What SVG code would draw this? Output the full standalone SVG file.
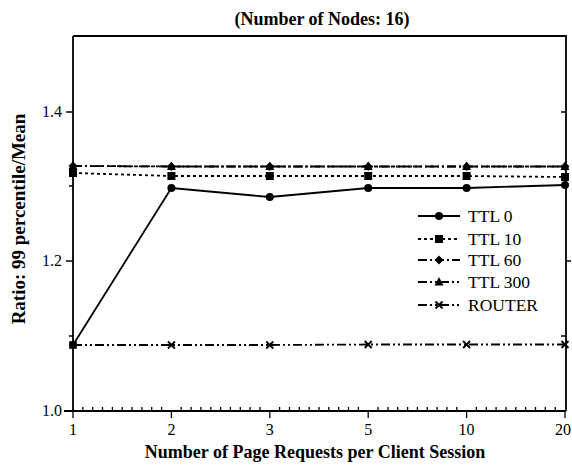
<svg xmlns="http://www.w3.org/2000/svg" width="572" height="466" viewBox="0 0 572 466" font-family="'Liberation Serif', 'DejaVu Serif', 'Times New Roman', serif">
<style>
text{font-family:'Liberation Serif','DejaVu Serif','Times New Roman',serif;fill:#000}
.t{font-weight:bold}
.tick{font-size:16px}
.leg{font-size:17.5px}
.ax{stroke:#000;stroke-width:1.8;fill:none}
.tk{stroke:#000;stroke-width:1.3}
.s{stroke:#000;stroke-width:1.8;fill:none}
.d10{stroke-dasharray:3,3}
.d60{stroke-dasharray:9,3,2,3}
.d300{stroke-dasharray:9,3,2,3,2,3}
.drt{stroke-dasharray:9,3,2,3,2,3}
.m{fill:#000;stroke:none}
.x{stroke:#000;stroke-width:1.8;fill:none}
</style>
<defs>
<circle id="mc" r="4" class="m"/>
<rect id="ms" x="-4" y="-4" width="8" height="8" class="m"/>
<path id="md" d="M0,-4.5 L4.5,0 L0,4.5 L-4.5,0Z" class="m"/>
<path id="mt" d="M0,-5 L4.5,3.5 L-4.5,3.5Z" class="m"/>
<path id="mx" d="M-3.5,-3.5 L3.5,3.5 M3.5,-3.5 L-3.5,3.5" class="x"/>
</defs>
<text class="t" x="322" y="25" font-size="18" text-anchor="middle">(Number of Nodes: 16)</text>
<g id="axes">
<path class="ax" d="M73,36 L566,36 L566,411 M73,36 L73,411 M64,411 L566,411"/>
<path class="tk" d="M66,112 H73 M66,261 H73 M66,411 H73 M69,186 H73 M69,336 H73 M566,112 H561 M566,186 H561 M566,261 H571 M566,336 H561"/>
<path class="tk" d="M73,411 V418 M171.4,411 V418 M269.8,411 V418 M368.2,411 V418 M466.6,411 V418 M565,411 V418"/>
<path class="tk" d="M82.8,411 V407 M92.7,411 V407 M102.5,411 V407 M112.4,411 V407 M122.2,411 V407 M132,411 V407 M141.9,411 V407 M151.7,411 V407 M161.6,411 V407 M181.2,411 V407 M191.1,411 V407 M200.9,411 V407 M210.8,411 V407 M220.6,411 V407 M230.4,411 V407 M240.3,411 V407 M250.1,411 V407 M260,411 V407 M279.6,411 V407 M289.5,411 V407 M299.3,411 V407 M309.2,411 V407 M319,411 V407 M328.8,411 V407 M338.7,411 V407 M348.5,411 V407 M358.4,411 V407 M378,411 V407 M387.9,411 V407 M397.7,411 V407 M407.6,411 V407 M417.4,411 V407 M427.2,411 V407 M437.1,411 V407 M446.9,411 V407 M456.8,411 V407 M476.4,411 V407 M486.3,411 V407 M496.1,411 V407 M506,411 V407 M515.8,411 V407 M525.6,411 V407 M535.5,411 V407 M545.3,411 V407 M555.2,411 V407"/>
<text class="tick" x="62" y="117" text-anchor="end">1.4</text>
<text class="tick" x="62" y="266" text-anchor="end">1.2</text>
<text class="tick" x="62" y="416" text-anchor="end">1.0</text>
<text class="tick" x="73" y="435" text-anchor="middle">1</text>
<text class="tick" x="171.4" y="435" text-anchor="middle">2</text>
<text class="tick" x="269.8" y="435" text-anchor="middle">3</text>
<text class="tick" x="368.2" y="435" text-anchor="middle">5</text>
<text class="tick" x="466.6" y="435" text-anchor="middle">10</text>
<text class="tick" x="563" y="435" text-anchor="middle">20</text>
<text class="t" x="315" y="458" font-size="18" text-anchor="middle">Number of Page Requests per Client Session</text>
<text class="t" font-size="19" text-anchor="middle" transform="translate(25,219) rotate(-90)">Ratio: 99 percentile/Mean</text>
</g>
<g id="connectors">
<polyline class="s drt" points="73,345 171.4,345 269.8,345 368.2,344.5 466.6,344.5 565,344.5"/>
<polyline class="s d10" points="73,173 171.4,176 269.8,176 368.2,176 466.6,176 565,177"/>
<polyline class="s d60" points="73,166 171.4,166.5 269.8,166.5 368.2,166.5 466.6,166.5 565,166.5"/>
<polyline class="s d300" points="73,166 171.4,166.5 269.8,166.5 368.2,166.5 466.6,166.5 565,166.5"/>
<polyline class="s" points="73,345 171.4,188 269.8,197 368.2,188 466.6,188 565,185"/>
</g>
<g id="series-router">
<use href="#mx" x="73" y="345"/><use href="#mx" x="171.4" y="345"/><use href="#mx" x="269.8" y="345"/><use href="#mx" x="368.2" y="344.5"/><use href="#mx" x="466.6" y="344.5"/><use href="#mx" x="565" y="344.5"/>
</g>
<g id="series-ttl10">
<use href="#ms" x="73" y="173"/><use href="#ms" x="171.4" y="176"/><use href="#ms" x="269.8" y="176"/><use href="#ms" x="368.2" y="176"/><use href="#ms" x="466.6" y="176"/><use href="#ms" x="565" y="177"/>
</g>
<g id="series-ttl60">
<use href="#md" x="73" y="166"/><use href="#md" x="171.4" y="166.5"/><use href="#md" x="269.8" y="166.5"/><use href="#md" x="368.2" y="166.5"/><use href="#md" x="466.6" y="166.5"/><use href="#md" x="565" y="166.5"/>
</g>
<g id="series-ttl300">
<use href="#mt" x="73" y="166"/><use href="#mt" x="171.4" y="166.5"/><use href="#mt" x="269.8" y="166.5"/><use href="#mt" x="368.2" y="166.5"/><use href="#mt" x="466.6" y="166.5"/><use href="#mt" x="565" y="166.5"/>
</g>
<g id="series-ttl0">
<use href="#mc" x="73" y="345"/><use href="#mc" x="171.4" y="188"/><use href="#mc" x="269.8" y="197"/><use href="#mc" x="368.2" y="188"/><use href="#mc" x="466.6" y="188"/><use href="#mc" x="565" y="185"/>
</g>
<g id="legend">
<line class="s" x1="418" y1="216" x2="460" y2="216"/><use href="#mc" x="439" y="216"/>
<text class="leg" x="468" y="222">TTL 0</text>
<line class="s d10" x1="418" y1="239" x2="460" y2="239"/><use href="#ms" x="439" y="239"/>
<text class="leg" x="468" y="245">TTL 10</text>
<line class="s d60" x1="418" y1="260" x2="460" y2="260"/><use href="#md" x="439" y="260"/>
<text class="leg" x="468" y="266">TTL 60</text>
<line class="s d300" x1="418" y1="282" x2="460" y2="282"/><use href="#mt" x="439" y="282"/>
<text class="leg" x="468" y="288">TTL 300</text>
<line class="s drt" x1="418" y1="305" x2="460" y2="305"/><use href="#mx" x="439" y="305"/>
<text class="leg" x="468" y="311">ROUTER</text>
</g>
</svg>
